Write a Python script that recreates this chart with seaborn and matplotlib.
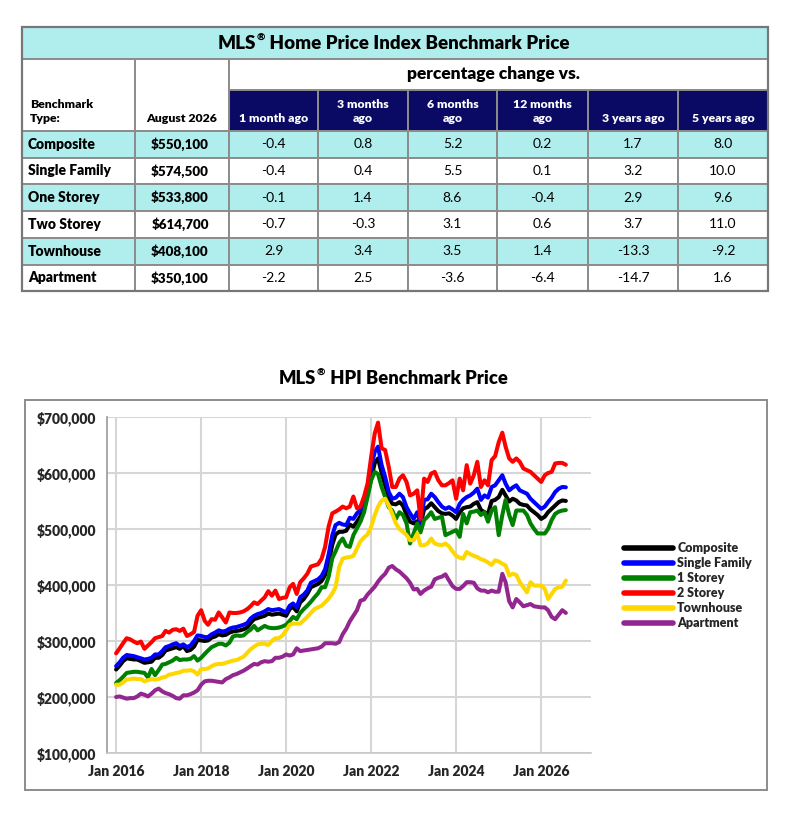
import numpy as np
import pandas as pd
import matplotlib
matplotlib.use("Agg")
import matplotlib.pyplot as plt
import seaborn as sns
from matplotlib.patches import Rectangle
from matplotlib.lines import Line2D
import matplotlib.ticker as mticker

# ---------------- data ----------------
table_types = ["Composite", "Single Family", "One Storey", "Two Storey", "Townhouse", "Apartment"]
table_price = ["$550,100", "$574,500", "$533,800", "$614,700", "$408,100", "$350,100"]
table_headers = ["1 month ago", "3 months\nago", "6 months\nago", "12 months\nago", "3 years ago", "5 years ago"]
chg_1m = [-0.4, -0.4, -0.1, -0.7, 2.9, -2.2]
chg_3m = [0.8, 0.4, 1.4, -0.3, 3.4, 2.5]
chg_6m = [5.2, 5.5, 8.6, 3.1, 3.5, -3.6]
chg_12m = [0.2, 0.1, -0.4, 0.6, 1.4, -6.4]
chg_3y = [1.7, 3.2, 2.9, 3.7, -13.3, -14.7]
chg_5y = [8.0, 10.0, 9.6, 11.0, -9.2, 1.6]

series_names = ["Composite", "Single Family", "1 Storey", "2 Storey", "Townhouse", "Apartment"]
series_colors = ["#000000", "#0000FF", "#008000", "#FF0000", "#FFD700", "#93278F"]

months = pd.date_range("2016-01-01", periods=128, freq="MS")

composite = [249, 256, 264, 269, 268, 267, 267, 264, 261, 262, 263, 270,
             270, 275, 283, 285, 287, 289, 286, 291, 282, 284, 290, 302,
             301, 300, 301, 306, 308, 312, 310, 311, 315, 317, 318, 319,
             321, 324, 332, 339, 341, 343, 345, 349, 347, 348, 349, 347,
             345, 357, 361, 353, 369, 375, 384, 396, 399, 402, 407, 418,
             440, 472, 490, 495, 495, 497, 508, 504, 513, 523, 545, 562,
             590, 618, 626, 600, 578, 557, 545, 544, 548, 542, 525, 513,
             510, 514, 508, 535, 539, 546, 539, 532, 528, 527, 528, 524,
             518, 530, 537, 539, 540, 545, 548, 534, 530, 527, 550, 552,
             557, 570, 560, 549, 554, 551, 545, 543, 542, 535, 530, 525,
             518, 522, 530, 536, 542, 548, 551, 550.1]
single_family = [255, 262, 270, 275, 274, 273, 271, 269, 267, 268, 270, 276,
                 276, 282, 289, 291, 294, 296, 291, 294, 289, 292, 300, 310,
                 309, 307, 307, 312, 315, 319, 317, 318, 322, 324, 325, 327,
                 329, 332, 340, 345, 348, 350, 353, 357, 355, 356, 357, 354,
                 351, 363, 367, 360, 378, 383, 390, 404, 407, 410, 416, 428,
                 455, 489, 507, 511, 508, 507, 520, 518, 528, 534, 550, 570,
                 611, 638, 647, 614, 593, 566, 554, 556, 563, 557, 539, 528,
                 518, 530, 510, 552, 553, 563, 557, 548, 540, 536, 539, 535,
                 530, 545, 552, 557, 560, 565, 572, 552, 560, 556, 575, 578,
                 587, 596, 581, 569, 574, 578, 569, 566, 563, 554, 548, 542,
                 536, 540, 548, 556, 566, 572, 575, 574.5]
one_storey = [225, 230, 236, 243, 244, 245, 245, 244, 243, 235, 250, 239,
              248, 258, 259, 262, 265, 270, 266, 267, 267, 268, 273, 265,
              270, 277, 283, 289, 292, 295, 295, 292, 297, 308, 310, 309,
              310, 316, 320, 327, 319, 323, 327, 324, 323, 323, 324, 326,
              329, 336, 343, 339, 350, 357, 363, 370, 378, 385, 396, 396,
              415, 448, 460, 475, 483, 470, 468, 489, 501, 513, 530, 557,
              587, 602, 598, 575, 557, 539, 533, 518, 530, 525, 510, 474,
              492, 510, 494, 516, 522, 530, 518, 520, 522, 489, 492, 495,
              498, 486, 527, 510, 530, 531, 533, 525, 530, 513, 533, 539,
              489, 525, 552, 525, 507, 533, 533, 533, 525, 510, 500, 492,
              492, 492, 500, 516, 527, 531, 533, 533.8]
two_storey = [278, 287, 296, 305, 303, 299, 296, 299, 286, 292, 298, 305,
              307, 309, 318, 315, 320, 321, 318, 322, 309, 312, 316, 345,
              355, 336, 329, 339, 338, 351, 342, 333, 351, 350, 350, 351,
              353, 357, 362, 369, 366, 372, 378, 389, 381, 390, 375, 377,
              378, 396, 402, 384, 405, 412, 420, 433, 435, 437, 447, 468,
              505, 528, 531, 535, 540, 537, 540, 558, 537, 540, 558, 581,
              629, 671, 690, 644, 641, 611, 575, 575, 590, 596, 584, 560,
              563, 569, 518, 590, 584, 599, 602, 587, 578, 578, 582, 587,
              554, 590, 569, 614, 581, 596, 620, 575, 587, 578, 623, 630,
              655, 672, 647, 626, 620, 626, 620, 608, 605, 602, 596, 590,
              584, 596, 600, 602, 617, 618, 618, 614.7]
townhouse = [222, 222, 226, 231, 232, 233, 232, 232, 228, 230, 232, 231,
             232, 235, 236, 240, 241, 243, 244, 247, 247, 248, 246, 240,
             250, 250, 251, 255, 258, 259, 259, 261, 263, 265, 266, 269,
             272, 279, 285, 290, 294, 295, 295, 293, 300, 305, 305, 310,
             319, 329, 331, 331, 331, 337, 343, 350, 357, 360, 363, 369,
             376, 385, 396, 432, 447, 449, 450, 452, 465, 478, 485, 490,
             504, 525, 540, 551, 554, 542, 527, 510, 500, 495, 489, 480,
             480, 492, 471, 471, 474, 483, 474, 472, 471, 474, 469, 460,
             452, 449, 447, 459, 455, 452, 450, 446, 444, 440, 436, 444,
             442, 438, 435, 417, 420, 418, 405, 396, 387, 405, 399, 399,
             399, 393, 375, 384, 393, 396, 397, 408.1]
apartment = [200, 201, 199, 197, 198, 198, 201, 206, 204, 201, 206, 212,
             215, 210, 207, 205, 202, 198, 197, 203, 203, 205, 208, 212,
             222, 228, 229, 229, 228, 227, 226, 232, 235, 239, 241, 244,
             247, 251, 255, 259, 258, 262, 264, 263, 264, 270, 270, 272,
             276, 274, 276, 287, 282, 283, 284, 285, 286, 287, 290, 296,
             296, 296, 295, 298, 312, 322, 335, 345, 355, 372, 374, 383,
             390, 397, 406, 414, 420, 431, 434, 428, 424, 418, 412, 404,
             392, 393, 384, 390, 394, 397, 410, 413, 415, 419, 408, 398,
             393, 393, 398, 405, 405, 404, 394, 390, 390, 387, 390, 388,
             388, 420, 405, 371, 360, 375, 369, 362, 364, 366, 362, 361,
             360, 360, 355, 343, 339, 347, 355, 350.1]

series_values = [composite, single_family, one_storey, two_storey, townhouse, apartment]

# ---------------- figure ----------------
W, H = 790, 833
sns.set_theme(style="white")
plt.rcParams["font.family"] = ["Lato", "DejaVu Sans"]
BOLD = 800

fig = plt.figure(figsize=(W / 100, H / 100), dpi=100)
fig.patch.set_facecolor("white")
renderer = fig.canvas.get_renderer()

CYAN = "#B0EEEE"
NAVY = "#0A0A64"
GRID_EC = "#8C8C8C"


def fx(x):
    return x / W


def fy(y):
    return 1 - y / H


def rect(x0, y0, x1, y1, fc, ec=GRID_EC, lw=1.4, z=1):
    fig.add_artist(Rectangle((fx(x0), fy(y1)), fx(x1) - fx(x0), fy(y0) - fy(y1),
                             transform=fig.transFigure, facecolor=fc,
                             edgecolor=ec, linewidth=lw, zorder=z))


def txt(x, y, s, **kw):
    kw.setdefault("va", "center")
    kw.setdefault("ha", "center")
    kw.setdefault("color", "black")
    return fig.text(fx(x), fy(y), s, **kw)


def text_width(s, **kw):
    t = fig.text(0, 0, s, **kw)
    w = t.get_window_extent(renderer).width
    t.remove()
    return w


def reg_title(xc, y, before, after, size):
    w1 = text_width(before, fontsize=size, fontweight=BOLD)
    w2 = text_width("®", fontsize=size * 0.55, fontweight=BOLD)
    w3 = text_width(after, fontsize=size, fontweight=BOLD)
    x0 = xc - (w1 + w2 + w3) / 2
    txt(x0, y, before, ha="left", va="baseline", fontsize=size, fontweight=BOLD)
    txt(x0 + w1 + 0.5, y - size * 0.62, "®", ha="left", va="baseline",
        fontsize=size * 0.55, fontweight=BOLD)
    txt(x0 + w1 + w2 + 1, y, after, ha="left", va="baseline", fontsize=size, fontweight=BOLD)


# ---------------- table ----------------
col_x = [22, 135, 229, 318, 408, 497, 588, 678, 768]
row_y = [27, 59, 90, 131, 157.5, 184, 211, 238, 264.5, 291]

rect(22, 27, 768, 59, CYAN)
reg_title(393, 49, "MLS", " Home Price Index Benchmark Price", 13.5)

rect(22, 59, 135, 131, "white")
rect(135, 59, 229, 131, "white")
rect(229, 59, 768, 90, "white")
txt(30, 104, "Benchmark", ha="left", fontsize=8.8, fontweight=BOLD)
txt(30, 118, "Type:", ha="left", fontsize=8.8, fontweight=BOLD)
txt(182, 118, "August 2026", fontsize=8.8, fontweight=BOLD)
txt(493, 74, "percentage change vs.", fontsize=12.5, fontweight=BOLD)

for j, h in enumerate(table_headers):
    x0, x1 = col_x[j + 2], col_x[j + 3]
    rect(x0, 90, x1, 131, NAVY)
    lines = h.split("\n")
    if len(lines) == 2:
        txt((x0 + x1) / 2, 104, lines[0], fontsize=8.8, fontweight=BOLD, color="white")
        txt((x0 + x1) / 2, 118, lines[1], fontsize=8.8, fontweight=BOLD, color="white")
    else:
        txt((x0 + x1) / 2, 118, h, fontsize=8.8, fontweight=BOLD, color="white")

chg_cols = [chg_1m, chg_3m, chg_6m, chg_12m, chg_3y, chg_5y]
for i, name in enumerate(table_types):
    y0, y1 = row_y[i + 3], row_y[i + 4]
    fc = CYAN if i % 2 == 0 else "white"
    for j in range(8):
        rect(col_x[j], y0, col_x[j + 1], y1, fc)
    yc = (y0 + y1) / 2
    txt(28, yc, name, ha="left", fontsize=10, fontweight=BOLD)
    txt(180, yc, table_price[i], fontsize=9.6, fontweight=BOLD)
    for j, col in enumerate(chg_cols):
        xc = (col_x[j + 2] + col_x[j + 3]) / 2
        txt(xc, yc, f"{col[i]:.1f}", fontsize=10)

rect(22, 27, 768, 291, "none", ec="#777777", lw=1.6, z=3)

# ---------------- chart ----------------
rect(25, 400, 767, 790, "none", ec="#8C8C8C", lw=1.4, z=0)
reg_title(393, 384, "MLS", " HPI Benchmark Price", 13.2)

ax = fig.add_axes([fx(107), fy(753), fx(591) - fx(107), fy(417) - fy(753)])

frames = []
for name, vals in zip(series_names, series_values):
    frames.append(pd.DataFrame({"date": months, "price": np.array(vals) * 1000.0, "type": name}))
df = pd.concat(frames, ignore_index=True)

sns.lineplot(data=df, x="date", y="price", hue="type", hue_order=series_names,
             palette=dict(zip(series_names, series_colors)), linewidth=2.9,
             ax=ax, legend=False)

ax.set_xlim(pd.Timestamp("2015-10-15"), pd.Timestamp("2027-03-05"))
ax.set_ylim(100000, 700000)
ax.set_yticks(np.arange(100000, 700001, 100000))
ax.yaxis.set_major_formatter(mticker.FuncFormatter(lambda v, p: f"${v:,.0f}"))
xt = pd.to_datetime([f"{y}-01-01" for y in range(2016, 2027, 2)])
ax.set_xticks(xt)
ax.set_xticklabels([f"Jan {d.year}" for d in xt])
ax.set_xlabel("")
ax.set_ylabel("")
ax.grid(True, color="#D6D6D6", linewidth=1.5)
ax.set_axisbelow(True)
for s in ["top", "right"]:
    ax.spines[s].set_visible(False)
ax.spines["left"].set_color("#999999")
ax.spines["left"].set_linewidth(1.2)
ax.spines["bottom"].set_color("#C8C8C8")
ax.spines["bottom"].set_linewidth(1.2)
ax.tick_params(axis="y", length=5, width=1.2, color="#999999", pad=3, labelsize=10)
ax.tick_params(axis="x", length=0, pad=9, labelsize=10)
for lab in ax.get_xticklabels() + ax.get_yticklabels():
    lab.set_fontweight(BOLD)

handles = [Line2D([0], [0], color=c, linewidth=4) for c in series_colors]
fig.legend(handles, series_names, loc="upper left",
           bbox_to_anchor=(fx(624), fy(542)), bbox_transform=fig.transFigure,
           frameon=False, handlelength=3.9, handletextpad=0.35,
           labelspacing=0.24, borderpad=0, borderaxespad=0,
           prop={"weight": BOLD, "size": 9})

fig.savefig("out.png", dpi=100, facecolor="white")
